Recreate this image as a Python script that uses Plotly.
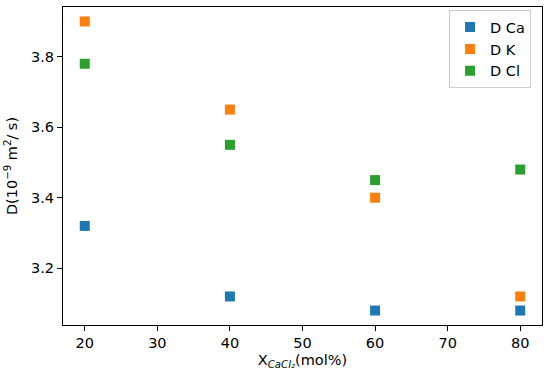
import plotly.graph_objects as go

x_vals = [20, 40, 60, 80]
d_ca = [3.32, 3.12, 3.08, 3.08]
d_k = [3.90, 3.65, 3.40, 3.12]
d_cl = [3.78, 3.55, 3.45, 3.48]
names = ["D Ca", "D K", "D Cl"]
colors = ["#1f77b4", "#ff7f0e", "#2ca02c"]
x_ticks = [20, 30, 40, 50, 60, 70, 80]
y_ticks = [3.2, 3.4, 3.6, 3.8]

fig = go.Figure()
for name, ys, c in zip(names, [d_ca, d_k, d_cl], colors):
    fig.add_trace(go.Scatter(
        x=x_vals, y=ys, mode="markers", name=name,
        marker=dict(symbol="square", size=10, color=c, line=dict(width=0)),
    ))

font = dict(family="DejaVu Sans", size=14.5, color="black")
axis_common = dict(
    showline=True, linecolor="black", linewidth=1, mirror=True,
    ticks="outside", ticklen=5, tickcolor="black", tickwidth=1,
    showgrid=False, zeroline=False, tickfont=font, automargin=False,
)
fig.update_layout(
    width=550, height=379,
    margin=dict(l=63, r=8, t=7, b=54),
    paper_bgcolor="white", plot_bgcolor="white",
    font=font,
    xaxis=dict(range=[17.0, 83.0], tickvals=x_ticks,
               title=dict(text="X<sub><i>CaCl₂</i></sub>(mol%)", font=font, standoff=4),
               **axis_common),
    yaxis=dict(range=[3.039, 3.941], tickvals=y_ticks, tickformat=".1f",
               title=dict(text="D(10<sup>−9</sup> m<sup>2</sup>/ s)", font=font, standoff=9),
               **axis_common),
    legend=dict(x=0.806, y=0.99, xanchor="left", yanchor="top",
                bordercolor="#cccccc", borderwidth=1, bgcolor="rgba(255,255,255,0.8)",
                font=font, itemwidth=30),
    showlegend=True,
)
fig.write_html("out.html", config={"displayModeBar": False},
               post_script="document.body.style.margin='0';")
